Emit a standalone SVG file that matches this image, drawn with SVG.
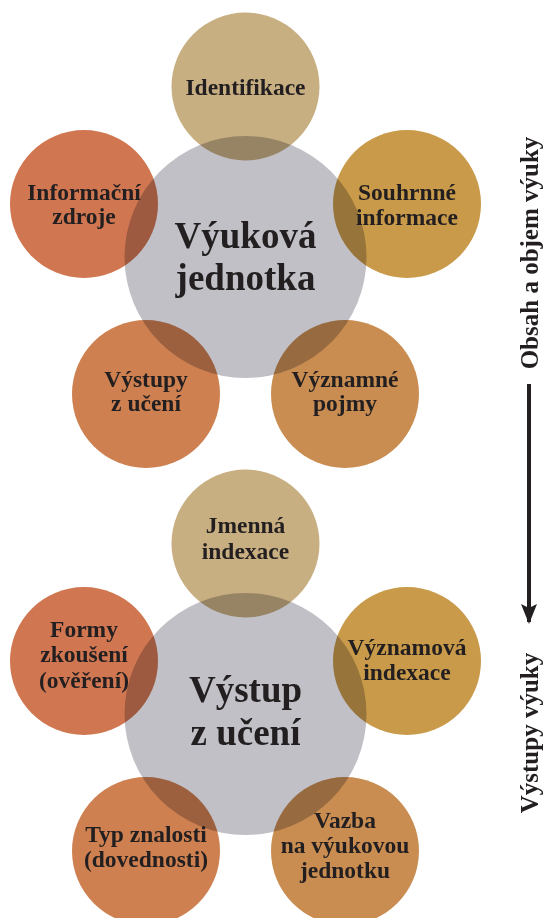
<svg xmlns="http://www.w3.org/2000/svg" width="545" height="918" viewBox="0 0 545 918">
<defs>
<style>
.bg{fill:#ffffff}
.hub{fill:#C1C0C6}
.sat{mix-blend-mode:multiply}
.c1{fill:#C8AF82}
.c2{fill:#D07752}
.c3{fill:#C89A4A}
.c4{fill:#CE8050}
.c5{fill:#C98D52}
text{font-family:"Liberation Serif","DejaVu Serif",serif;font-weight:bold;fill:#231F20;text-anchor:middle}
.s{font-size:23.5px}
.b{font-size:37px}
.v{font-size:25px}
.ln{stroke:#231F20;stroke-width:4;fill:none}
</style>
<marker id="ah" viewBox="0 0 10 10" refX="9" refY="5" markerWidth="5" markerHeight="4" markerUnits="strokeWidth" orient="auto" preserveAspectRatio="none">
<path d="M0,0 L10,5 L0,10 L2,5 Z" fill="#231F20"/>
</marker>
</defs>
<rect class="bg" x="0" y="0" width="545" height="918"/>

<g id="vyukova-jednotka">
<circle class="hub" cx="245.5" cy="257" r="121"/>
<text class="b" x="245.5" y="248">Výuková</text>
<text class="b" x="245.5" y="290">jednotka</text>
</g>
<g id="identifikace">
<circle class="sat c1" cx="245.5" cy="86.5" r="74"/>
<text class="s" x="245.5" y="95">Identifikace</text>
</g>
<g id="informacni-zdroje">
<circle class="sat c2" cx="84" cy="204" r="74"/>
<text class="s" x="84" y="200">Informační</text>
<text class="s" x="84" y="224">zdroje</text>
</g>
<g id="souhrnne-informace">
<circle class="sat c3" cx="407" cy="204" r="74"/>
<text class="s" x="407" y="200">Souhrnné</text>
<text class="s" x="407" y="225">informace</text>
</g>
<g id="vystupy-z-uceni">
<circle class="sat c4" cx="146" cy="394" r="74"/>
<text class="s" x="146" y="387">Výstupy</text>
<text class="s" x="146" y="411">z učení</text>
</g>
<g id="vyznamne-pojmy">
<circle class="sat c5" cx="345" cy="394" r="74"/>
<text class="s" x="345" y="387">Významné</text>
<text class="s" x="345" y="411">pojmy</text>
</g>

<g id="vystup-z-uceni">
<circle class="hub" cx="245.5" cy="714" r="121"/>
<text class="b" x="245.5" y="702">Výstup</text>
<text class="b" x="245.5" y="745">z učení</text>
</g>
<g id="jmenna-indexace">
<circle class="sat c1" cx="245.5" cy="543.5" r="74"/>
<text class="s" x="245.5" y="533">Jmenná</text>
<text class="s" x="245.5" y="559">indexace</text>
</g>
<g id="formy-zkouseni">
<circle class="sat c2" cx="84" cy="661" r="74"/>
<text class="s" x="84" y="637">Formy</text>
<text class="s" x="84" y="662">zkoušení</text>
<text class="s" x="84" y="688">(ověření)</text>
</g>
<g id="vyznamova-indexace">
<circle class="sat c3" cx="407" cy="661" r="74"/>
<text class="s" x="407" y="655">Významová</text>
<text class="s" x="407" y="680">indexace</text>
</g>
<g id="typ-znalosti">
<circle class="sat c4" cx="146" cy="851" r="74"/>
<text class="s" x="146" y="842">Typ znalosti</text>
<text class="s" x="146" y="867">(dovednosti)</text>
</g>
<g id="vazba">
<circle class="sat c5" cx="345" cy="851" r="74"/>
<text class="s" x="345" y="828">Vazba</text>
<text class="s" x="345" y="853">na výukovou</text>
<text class="s" x="345" y="878">jednotku</text>
</g>

<g id="axis-top">
<text class="v" transform="translate(538,253) rotate(-90)">Obsah a objem výuky</text>
</g>
<g id="axis-bottom">
<text class="v" transform="translate(538,733) rotate(-90)">Výstupy výuky</text>
</g>
<g id="connectors">
<line class="ln" x1="529" y1="384" x2="529" y2="622" marker-end="url(#ah)"/>
</g>
</svg>
